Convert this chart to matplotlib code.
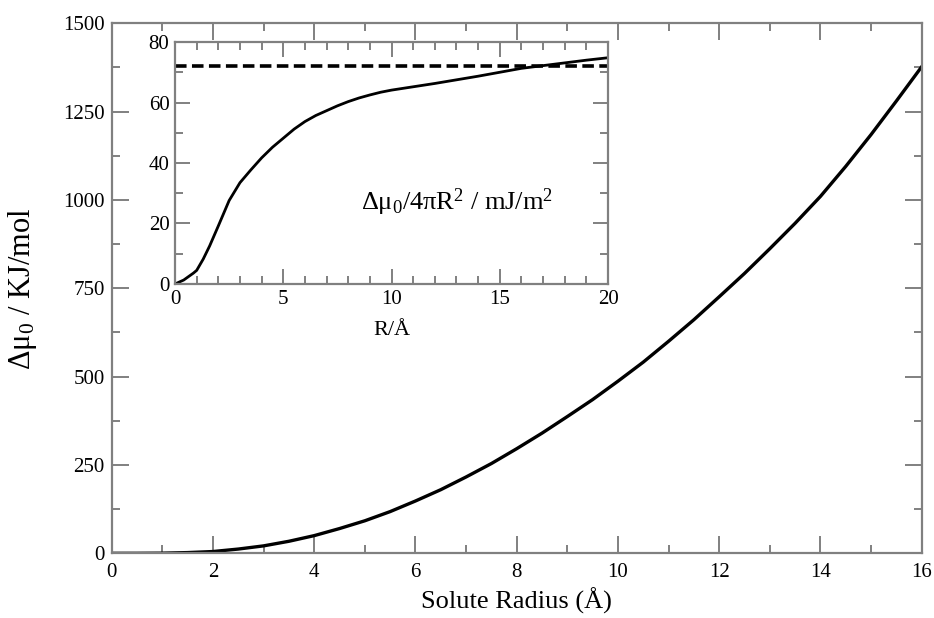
import numpy as np
import matplotlib
matplotlib.use("Agg")
from matplotlib import pyplot as plt
from matplotlib.ticker import MultipleLocator

# main curve: solvation free energy vs solute radius
radius = [0, 0.5, 1, 1.5, 2, 2.5, 3, 3.5, 4, 4.5, 5, 5.5, 6, 6.5, 7, 7.5, 8,
          8.5, 9, 9.5, 10, 10.5, 11, 11.5, 12, 12.5, 13, 13.5, 14, 14.5, 15,
          15.5, 16]
dmu = [0, 0.05, 0.4, 2, 5, 12, 21, 34, 50, 70, 92, 118, 148, 180, 216, 254,
       296, 340, 387, 435, 487, 541, 600, 661, 726, 792, 862, 934, 1010,
       1095, 1185, 1280, 1377]

# inset: free energy per unit area
r_in = [0, 0.4, 0.85, 1.0, 1.3, 1.6, 2.0, 2.5, 3.0, 3.5, 4.0, 4.5, 5.0, 5.5,
        6.0, 6.5, 7.0, 7.5, 8.0, 8.5, 9.0, 9.5, 10, 11, 12, 13, 14, 15, 16,
        17, 18, 19, 20]
gamma = [0, 1.3, 3.6, 4.5, 8.2, 12.6, 19.2, 27.6, 33.5, 37.7, 41.7, 45.2,
         48.2, 51.2, 53.7, 55.7, 57.3, 58.9, 60.3, 61.5, 62.5, 63.4, 64.1,
         65.2, 66.3, 67.5, 68.7, 70, 71.3, 72.2, 73.1, 74, 74.8]
gamma_flat = 72.2

plt.rcParams['font.family'] = ['Liberation Serif', 'DejaVu Serif']
plt.rcParams['mathtext.fontset'] = 'custom'
plt.rcParams['mathtext.rm'] = 'Liberation Serif'
plt.rcParams['mathtext.it'] = 'Liberation Serif:italic'

frame = '#808080'

fig = plt.figure(figsize=(9.34, 6.18), dpi=100)
ax = fig.add_axes([0.1196, 0.1047, 0.8672, 0.8576])
ax.plot(radius, dmu, color='black', lw=2.4)
ax.set_xlim(0, 16)
ax.set_ylim(0, 1500)
ax.xaxis.set_major_locator(MultipleLocator(2))
ax.xaxis.set_minor_locator(MultipleLocator(1))
ax.yaxis.set_major_locator(MultipleLocator(250))
ax.yaxis.set_minor_locator(MultipleLocator(125))
ax.tick_params(which='both', direction='in', top=True, right=True,
               color=frame, width=1.4, labelsize=15, pad=5)
ax.tick_params(axis='x', pad=7)
ax.tick_params(which='major', length=12)
ax.tick_params(which='minor', length=6)
for s in ax.spines.values():
    s.set_color(frame)
    s.set_linewidth(1.6)
ax.set_xlabel('Solute Radius (Å)', fontsize=19, labelpad=4)
ax.set_ylabel('Δμ$_0$ / KJ/mol', fontsize=22)
ax.yaxis.set_label_coords(-0.09, 0.5)

# inset
ins = fig.add_axes([0.1874, 0.5405, 0.4636, 0.3915])
ins.plot(r_in, gamma, color='black', lw=2)
ins.axhline(gamma_flat, color='black', lw=2.6, dashes=(3.2, 1.5))
ins.set_xlim(0, 20)
ins.set_ylim(0, 80)
ins.xaxis.set_major_locator(MultipleLocator(5))
ins.xaxis.set_minor_locator(MultipleLocator(1))
ins.yaxis.set_major_locator(MultipleLocator(20))
ins.yaxis.set_minor_locator(MultipleLocator(10))
ins.tick_params(which='both', direction='in', top=True, right=True,
                color=frame, width=1.4, labelsize=15, pad=4)
ins.tick_params(which='major', length=11)
ins.tick_params(which='minor', length=6)
for s in ins.spines.values():
    s.set_color(frame)
    s.set_linewidth(1.6)
ins.set_xlabel('R/Å', fontsize=16, labelpad=9)
ins.text(8.6, 24.4, 'Δμ$_0$/4πR$^2$ / mJ/m$^2$', fontsize=19)

fig.savefig('out.png', dpi=100)
